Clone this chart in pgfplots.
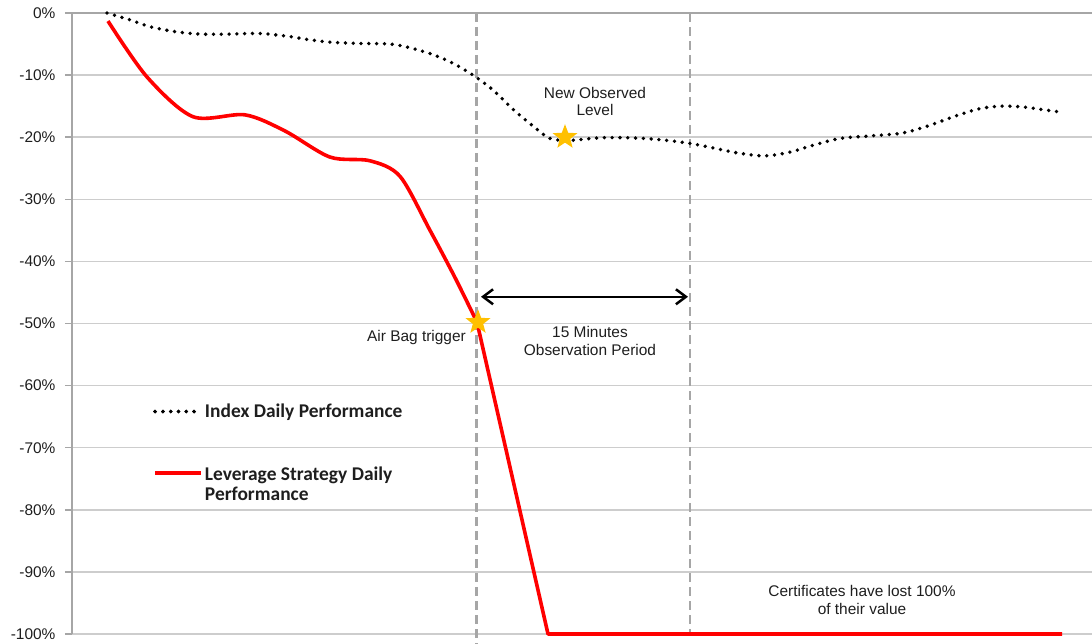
\documentclass[border=0pt]{standalone}
\usepackage{fontspec}
\setmainfont{Liberation Sans}
\newfontfamily\calibri{Carlito}
\usepackage{pgfplots}
\pgfplotsset{compat=1.18}
\usetikzlibrary{arrows.meta}
\definecolor{gridc}{RGB}{205,205,205}
\definecolor{axc}{RGB}{166,166,166}
\definecolor{dashc}{RGB}{166,166,166}
\definecolor{gold}{RGB}{255,192,0}
\definecolor{txt}{RGB}{30,30,30}
\pgfdeclareplotmark{fstar}{%
  \pgfpathmoveto{\pgfpointpolar{90}{\pgfplotmarksize}}%
  \pgfpathlineto{\pgfpointpolar{126}{0.42\pgfplotmarksize}}%
  \pgfpathlineto{\pgfpointpolar{162}{\pgfplotmarksize}}%
  \pgfpathlineto{\pgfpointpolar{198}{0.42\pgfplotmarksize}}%
  \pgfpathlineto{\pgfpointpolar{234}{\pgfplotmarksize}}%
  \pgfpathlineto{\pgfpointpolar{270}{0.42\pgfplotmarksize}}%
  \pgfpathlineto{\pgfpointpolar{306}{\pgfplotmarksize}}%
  \pgfpathlineto{\pgfpointpolar{342}{0.42\pgfplotmarksize}}%
  \pgfpathlineto{\pgfpointpolar{18}{\pgfplotmarksize}}%
  \pgfpathlineto{\pgfpointpolar{54}{0.42\pgfplotmarksize}}%
  \pgfpathclose\pgfusepathqfill}
\begin{document}
\begin{tikzpicture}
\begin{axis}[
  name=ax,
  scale only axis,
  width=1020bp, height=621bp,
  xmin=72, xmax=1092, ymin=-100, ymax=0,
  clip=false,
  axis x line*=top, axis y line*=left,
  axis line style={draw=axc, line width=2bp},
  xtick=\empty,
  ytick={-100,-90,-80,-70,-60,-50,-40,-30,-20,-10,0},
  yticklabels={-100\%,-90\%,-80\%,-70\%,-60\%,-50\%,-40\%,-30\%,-20\%,-10\%,0\%},
  tick align=outside,
  major tick length=7bp,
  tick style={draw=axc, line width=1.5bp},
  ymajorgrids,
  grid style={draw=gridc, line width=1.5bp},
  yticklabel style={font=\fontsize{15.5}{18}\selectfont, text=txt, xshift=-6bp},
  legend style={at={(axis cs:153,-62.6)}, anchor=north west, draw=none, fill=none,
    font=\calibri\bfseries\fontsize{19.5}{21.5}\selectfont, text=txt, row sep=42bp,
    inner sep=0pt},
  legend cell align=left,
  legend image code/.code={\path (0bp,0bp) -- (46bp,0bp);\draw[#1] (0bp,0bp) -- (42bp,0bp);},
]
% vertical dashed lines
\draw[dashc, line width=2.5bp, dash pattern=on 9bp off 5bp] (axis cs:476.5,0) -- (axis cs:476.5,-101.5);
\draw[dashc, line width=2.5bp, dash pattern=on 9bp off 5bp] (axis cs:690,0) -- (axis cs:690,-100);

\addplot[black, line width=3.8bp, line cap=round, dash pattern=on 0bp off 7.8bp, smooth] coordinates {
(107,0) (130,-1.1) (150,-2.2) (175,-3.0) (200,-3.4) (230,-3.4) (260,-3.3) (290,-3.8)
(305,-4.2) (330,-4.7) (360,-4.9) (390,-5.0) (410,-5.6) (433,-6.7) (453,-8.1) (473,-10)
(493,-12.4) (513,-15.5) (533,-18.2) (550,-20.2) (570,-20.5) (600,-20.1) (630,-20.1)
(660,-20.4) (690,-21) (715,-21.8) (740,-22.6) (765,-23) (790,-22.4) (813,-21.3)
(840,-20.2) (870,-19.8) (900,-19.4) (920,-18.6) (940,-17.5) (957,-16.5) (980,-15.4)
(1000,-15) (1020,-15.1) (1040,-15.5) (1058,-15.9)};
\addlegendentry{Index Daily Performance}

\addplot[red, line width=3.6bp, smooth] coordinates {
(108,-1.3) (147,-10.3) (193,-16.7) (245,-16.4) (285,-19.0) (330,-23.2) (370,-23.8)
(400,-26.3) (430,-35) (455,-42.6) (477,-49.8)};
\addlegendentry{\begin{tabular}[t]{@{}l@{}}Leverage Strategy Daily\\[-1bp]Performance\end{tabular}}

\addplot[red, line width=3.6bp, line join=round, forget plot] coordinates {
(477,-49.8) (548,-100) (1062,-100)};

\addplot[only marks, mark=fstar, mark size=13bp, gold, forget plot] coordinates {
(565,-20) (478,-49.8)};

% arrow
\draw[{Straight Barb[length=10bp,width=15bp]}-{Straight Barb[length=10bp,width=15bp]}, black, line width=2.5bp]
  (axis cs:481,-45.7) -- (axis cs:688,-45.7);

\node[font=\fontsize{15.5}{18}\selectfont, text=txt, align=center] at (axis cs:595,-14.25) {New Observed\\Level};
\node[font=\fontsize{15.5}{18}\selectfont, text=txt, anchor=east, inner sep=0pt] at (axis cs:466,-52.3) {Air Bag trigger};
\node[font=\fontsize{15.5}{18}\selectfont, text=txt, align=center] at (axis cs:590,-52.8) {15 Minutes\\Observation Period};
\node[font=\fontsize{15.5}{18}\selectfont, text=txt, align=center] at (axis cs:862,-94.5) {Certificates have lost 100\%\\of their value};
\end{axis}
\pgfresetboundingbox
\path[use as bounding box] ([xshift=-72bp,yshift=-9bp]ax.south west) rectangle ([yshift=13bp]ax.north east);
\end{tikzpicture}
\end{document}
